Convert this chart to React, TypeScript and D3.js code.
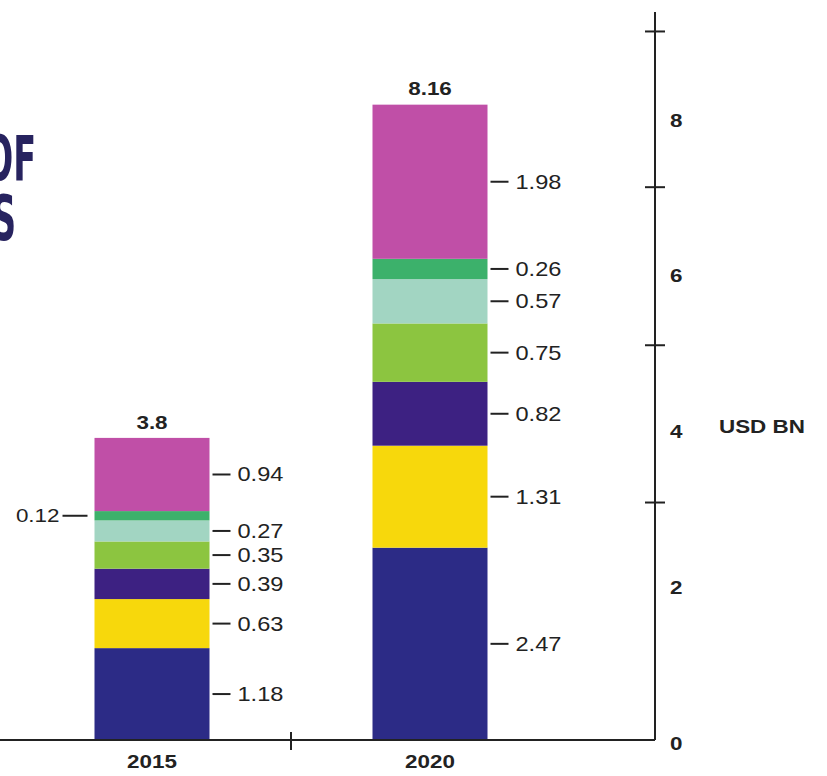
import React from "react";
import * as d3 from "d3";

const years = ["2015", "2020"];
const totals = ["3.8", "8.16"];
const segmentKeys = ["s1", "s2", "s3", "s4", "s5", "s6", "s7"];
const values2015 = [1.18, 0.63, 0.39, 0.35, 0.27, 0.12, 0.94];
const values2020 = [2.47, 1.31, 0.82, 0.75, 0.57, 0.26, 1.98];
const segmentColors = ["#2c2b86", "#f7d80c", "#3d2182", "#8cc540", "#a2d5c2", "#3cb16b", "#c04fa7"];
const axisLabels = [0, 2, 4, 6, 8];
const axisMarks = [3.05, 5.07, 7.1, 9.1];

const W = 827;
const H = 776;
const SX = 1.18;
const font = "'Liberation Sans', Arial, Helvetica, sans-serif";

function T({ x, y, children, anchor = "start", size = 20, bold = false, fill = "#222" }: any) {
  return (
    <text
      transform={`translate(${x},${y}) scale(${SX},1)`}
      dy="0.35em"
      textAnchor={anchor}
      fontFamily={font}
      fontSize={size}
      fontWeight={bold ? "bold" : "normal"}
      fill={fill}
    >
      {children}
    </text>
  );
}

export default function App() {
  const y = d3.scaleLinear().domain([0, 9.35]).range([740, 12]);
  const xc = d3.scalePoint().domain(years).range([152, 430]);
  const bw = 115;
  const rows = years.map((yr, i) => {
    const vals = i === 0 ? values2015 : values2020;
    const o: any = { year: yr };
    segmentKeys.forEach((k, j) => (o[k] = vals[j]));
    return o;
  });
  const stacked = d3.stack().keys(segmentKeys)(rows as any);
  const axisX = 655;

  return (
    <svg width={W} height={H} style={{ display: "block", position: "absolute", left: 0, top: 0, background: "#fff" }}>
      <rect width={W} height={H} fill="#fff" />
      {/* cropped title */}
      <g fontFamily="'DejaVu Sans Condensed', 'DejaVu Sans', sans-serif" fontWeight="bold" fill="#27235f" fontSize={62}>
        <text transform="translate(36,180) scale(0.6,1)" textAnchor="end">OF</text>
        <text transform="translate(16,240) scale(0.6,1)" textAnchor="end">S</text>
      </g>

      {/* bars */}
      {stacked.map((layer, li) =>
        layer.map((d: any, bi: number) => (
          <rect
            key={`${li}-${bi}`}
            x={xc(years[bi])! - bw / 2}
            width={bw}
            y={y(d[1])}
            height={y(d[0]) - y(d[1])}
            fill={segmentColors[li]}
          />
        ))
      )}

      {/* value labels */}
      {stacked.map((layer, li) =>
        layer.map((d: any, bi: number) => {
          const val = (bi === 0 ? values2015 : values2020)[li];
          const cy = (y(d[0]) + y(d[1])) / 2;
          const left = bi === 0 && li === 5;
          const bx = xc(years[bi])! - bw / 2;
          if (left) {
            return (
              <g key={`l${li}-${bi}`}>
                <line x1={bx - 32} x2={bx - 7} y1={cy} y2={cy} stroke="#222" strokeWidth={2} />
                <T x={bx - 35} y={cy} anchor="end" size={19}>{val.toFixed(2)}</T>
              </g>
            );
          }
          return (
            <g key={`l${li}-${bi}`}>
              <line x1={bx + bw + 3} x2={bx + bw + 21} y1={cy} y2={cy} stroke="#222" strokeWidth={2} />
              <T x={bx + bw + 28} y={cy} size={20}>{val.toFixed(2)}</T>
            </g>
          );
        })
      )}

      {/* totals */}
      {years.map((yr, i) => {
        const top = stacked[stacked.length - 1][i][1];
        return (
          <T key={yr} x={xc(yr)} y={y(top) - 16} anchor="middle" size={19} bold>
            {totals[i]}
          </T>
        );
      })}

      {/* baseline */}
      <line x1={0} x2={axisX} y1={y(0)} y2={y(0)} stroke="#222" strokeWidth={2} />
      <line x1={291} x2={291} y1={y(0) - 8} y2={y(0) + 10} stroke="#222" strokeWidth={2} />
      {years.map((yr) => (
        <T key={yr} x={xc(yr)} y={761} anchor="middle" size={19} bold>
          {yr}
        </T>
      ))}

      {/* right axis */}
      <line x1={axisX} x2={axisX} y1={y(9.35)} y2={y(0)} stroke="#222" strokeWidth={2} />
      {axisMarks.map((v) => (
        <line key={v} x1={axisX - 10} x2={axisX + 10} y1={y(v)} y2={y(v)} stroke="#222" strokeWidth={2} />
      ))}
      {axisLabels.map((v) => (
        <T key={v} x={670} y={y(v) + 3} size={19} bold>
          {v}
        </T>
      ))}
      <T x={719} y={426} size={19} bold>
        USD BN
      </T>
    </svg>
  );
}
